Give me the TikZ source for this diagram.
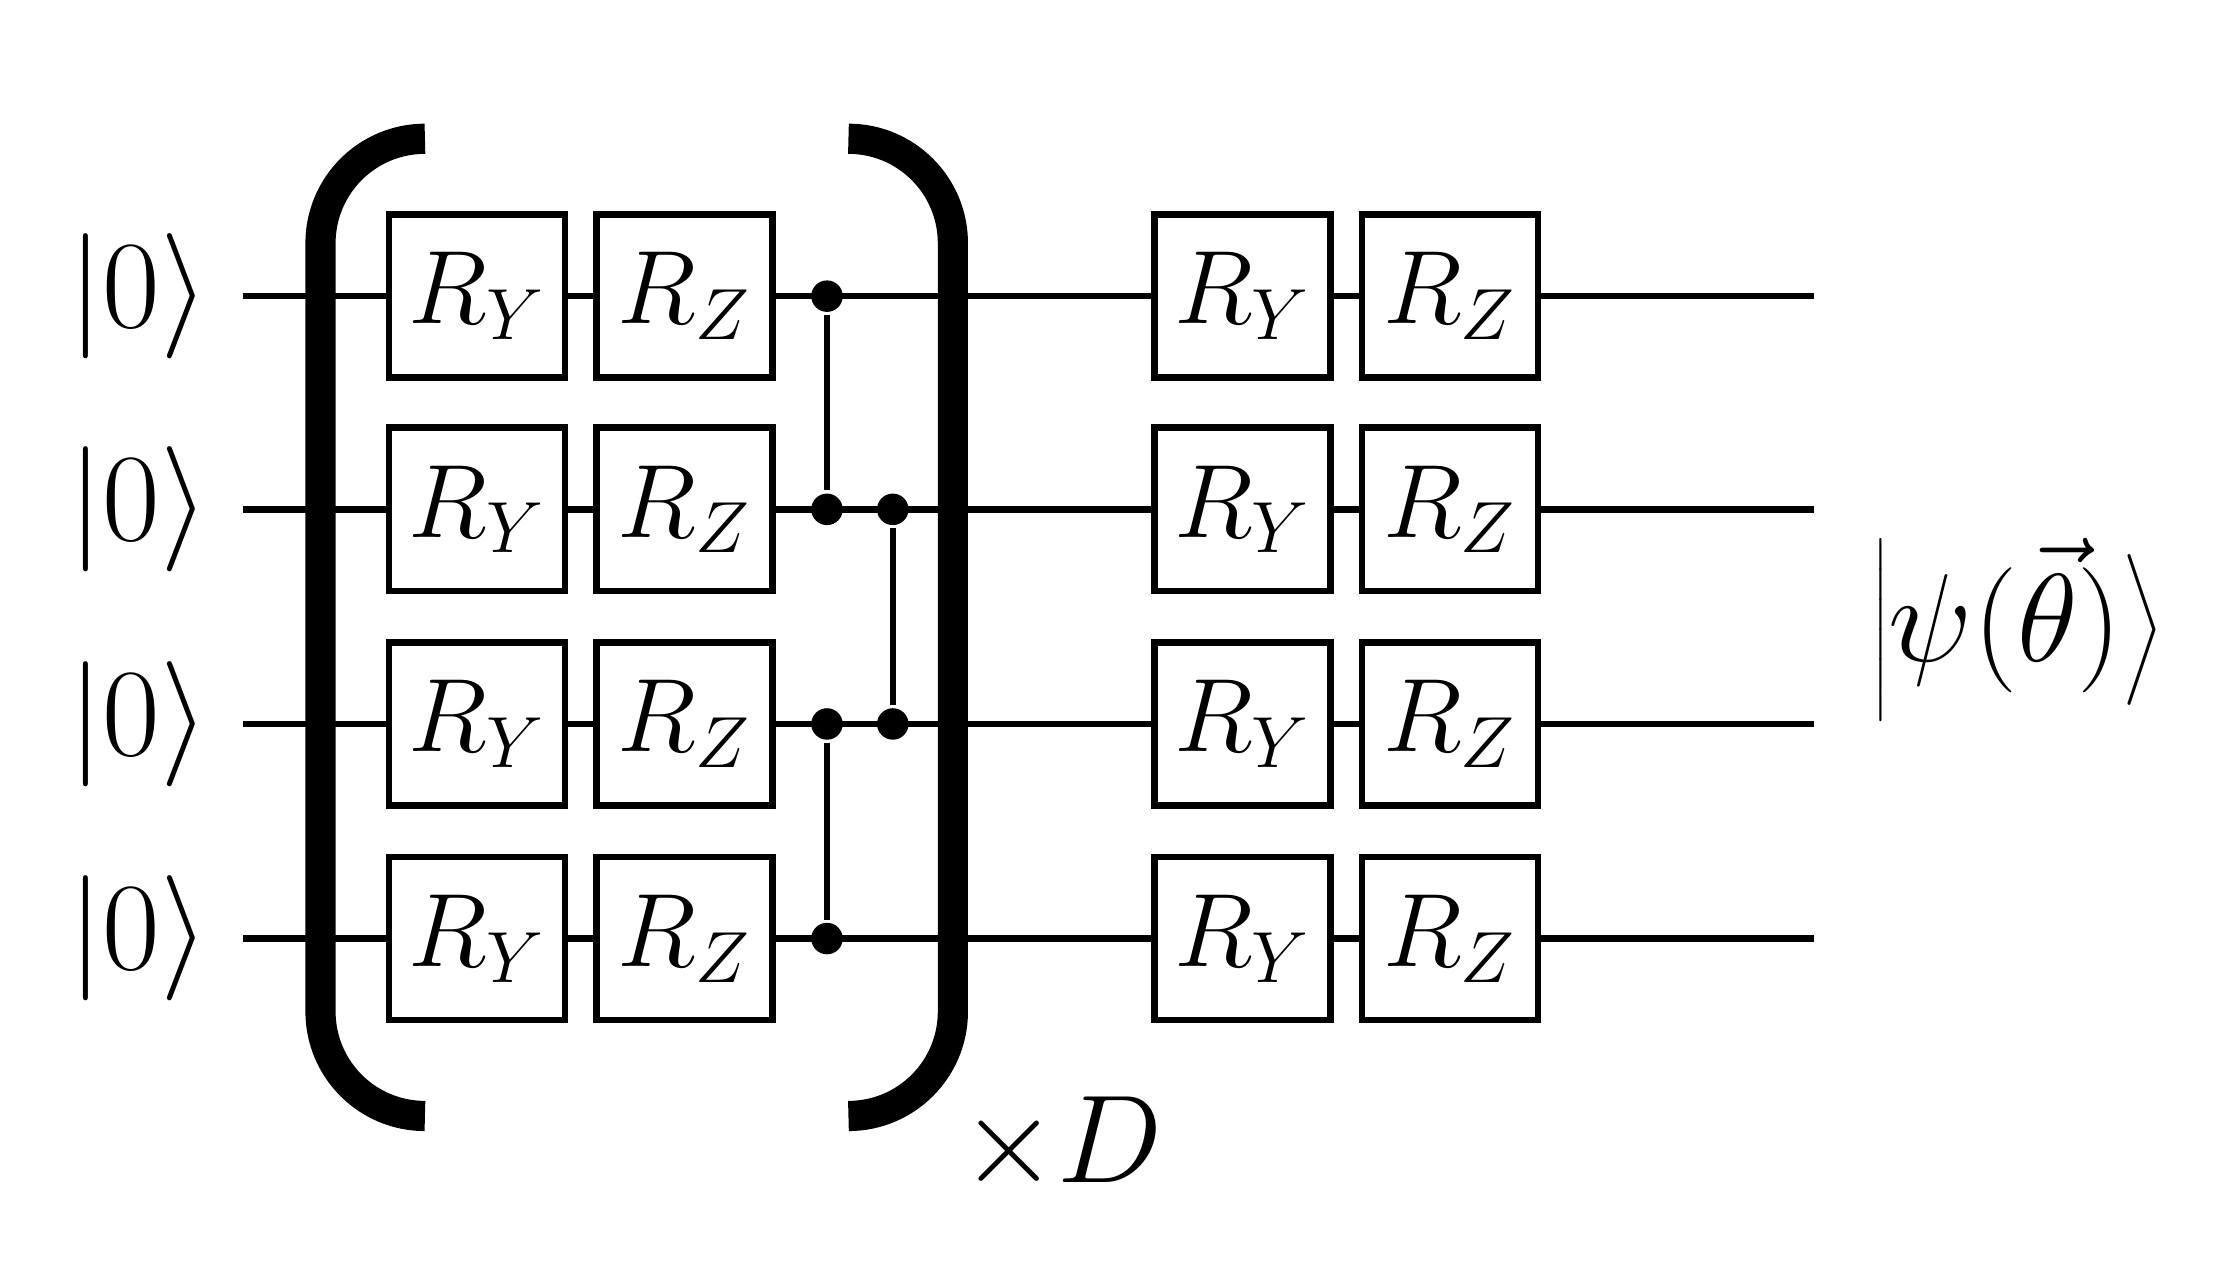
\documentclass[tikz,border=0pt]{standalone}
\begin{document}
\begin{tikzpicture}[x=0.01cm,y=-0.01cm,line width=1.3pt,
  gate/.style={draw,fill=white,minimum width=1.23cm,minimum height=1.14cm,inner sep=0pt,font=\fontsize{22}{26}\selectfont},
  ctrl/.style={circle,fill=black,inner sep=0pt,minimum size=0.22cm},
  lbl/.style={font=\fontsize{24}{28}\selectfont}]
\useasboundingbox (0,0) rectangle (1560,889);
\foreach \i/\y in {1/207,2/356,3/506,4/656}{
  \coordinate (s\i) at (170,\y);
  \coordinate (e\i) at (1268,\y);
  \draw (s\i) -- (e\i);
  \node[lbl,anchor=east] (k\i) at (160,\y) {$|0\rangle$};
  \node[gate] (ya\i) at (333.5,\y) {$R_Y$};
  \node[gate] (za\i) at (478.5,\y) {$R_Z$};
  \node[gate] (yb\i) at (868.5,\y) {$R_Y$};
  \node[gate] (zb\i) at (1013.5,\y) {$R_Z$};
}
\node[ctrl] (c1) at (578,207) {};
\node[ctrl] (c2) at (578,356) {};
\node[ctrl] (c3) at (578,506) {};
\node[ctrl] (c4) at (578,656) {};
\node[ctrl] (d2) at (624,356) {};
\node[ctrl] (d3) at (624,506) {};
\draw (c1) -- (c2); \draw (c3) -- (c4); \draw (d2) -- (d3);
\draw[line width=6pt] (297,97) arc[start angle=-90,end angle=-180,radius=73] -- (224,707) arc[start angle=180,end angle=90,radius=73];
\draw[line width=6pt] (593,97) arc[start angle=-90,end angle=0,radius=73] -- (666,707) arc[start angle=0,end angle=90,radius=73];
\node[lbl] (D) at (742,800) {$\times D$};
\node[lbl] (psi) at (1410,440) {$\left|\psi(\vec\theta)\right\rangle$};
\end{tikzpicture}
\end{document}
